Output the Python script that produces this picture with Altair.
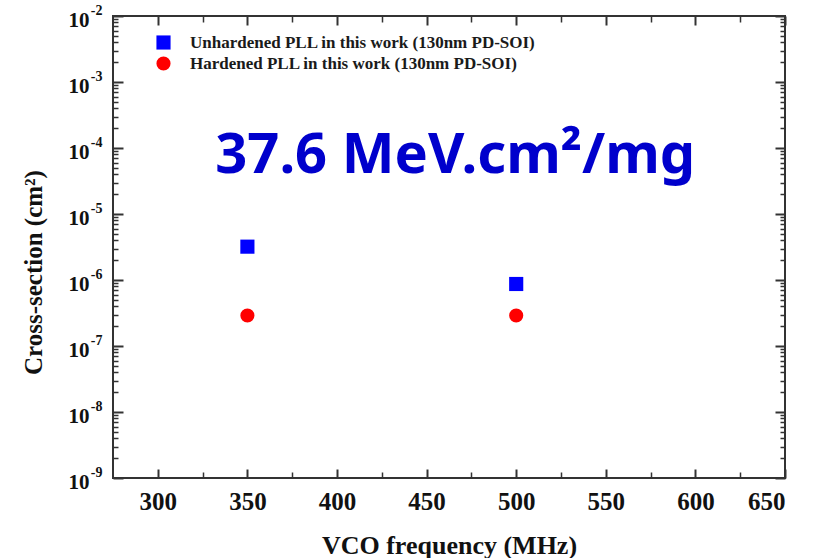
import altair as alt
import pandas as pd

# ---- data ----
freq = [350, 500]
unhardened = [3.2e-6, 8.7e-7]
hardened = [2.9e-7, 2.9e-7]
series_names = [
    "Unhardened PLL in this work (130nm PD-SOI)",
    "Hardened PLL in this work (130nm PD-SOI)",
]
x_major = [300, 350, 400, 450, 500, 550, 600, 650]
x_minor = [325, 375, 425, 475, 525, 575, 625]
y_major = [1e-9, 1e-8, 1e-7, 1e-6, 1e-5, 1e-4, 1e-3, 1e-2]
y_minor = [k * 10.0 ** e for e in range(-9, -2) for k in range(2, 10)]
annotation = ["37.6 MeV.cm²/mg"]
ann_freq = [466]
ann_cs = [4.2e-5]

rows = []
for f, v in zip(freq, unhardened):
    rows.append({"freq": f, "cs": v, "series": series_names[0]})
for f, v in zip(freq, hardened):
    rows.append({"freq": f, "cs": v, "series": series_names[1]})
df = pd.DataFrame(rows)
ann_df = pd.DataFrame({"freq": ann_freq, "cs": ann_cs, "text": annotation})

xscale = alt.Scale(domain=[275, 650], nice=False, zero=False)
yscale = alt.Scale(type="log", domain=[1e-9, 1e-2], nice=False)

SERIF = "Liberation Serif"
TICK = "#333333"

def tick_axis(orient, values, size, labels=False, **kw):
    return alt.Axis(
        orient=orient, values=values, tickSize=size, offset=-size,
        domain=False, grid=False, labels=labels, tickColor=TICK,
        tickWidth=2 if size > 7 else 1.5, **kw,
    )

exp_expr = "'-' + round(-log(datum.value)/LN10)"

legend = alt.Legend(
    orient="none", legendX=42, legendY=18, title=None, padding=0,
    labelFont=SERIF, labelFontSize=17, labelFontWeight="bold",
    labelColor="#1a1a1a", symbolSize=200, rowPadding=3, labelOffset=18,
    symbolStrokeWidth=0, labelLimit=0,
)

points = alt.Chart(df).mark_point(filled=True, opacity=1, size=200).encode(
    x=alt.X("freq:Q", scale=xscale, title="VCO frequency (MHz)",
            axis=tick_axis("bottom", x_major, 9, labels=True,
                           labelPadding=11, titlePadding=18,
                           labelFontSize=25, titleFontSize=26)),
    y=alt.Y("cs:Q", scale=yscale, title="Cross-section (cm²)",
            axis=tick_axis("left", y_major, 10, labels=True,
                           labelExpr="'10'", labelPadding=24,
                           labelOffset=4, labelFontSize=21,
                           titlePadding=22, titleFontSize=25, titleY=256)),
    color=alt.Color("series:N", scale=alt.Scale(domain=series_names,
                    range=["#0000ff", "#ff0000"]), legend=legend),
    shape=alt.Shape("series:N", scale=alt.Scale(domain=series_names,
                    range=["square", "circle"]), legend=legend),
)

def guide_layer(xo, xv, xs, yo, yv, ys):
    return alt.Chart(df).mark_point(opacity=0).encode(
        x=alt.X("freq:Q", scale=xscale, title=None, axis=tick_axis(xo, xv, xs)),
        y=alt.Y("cs:Q", scale=yscale, title=None, axis=tick_axis(yo, yv, ys)),
    )

g1 = guide_layer("top", x_major, 9, "right", y_major, 10)
g2 = guide_layer("bottom", x_minor, 6, "left", y_minor, 5)
g3 = guide_layer("top", x_minor, 6, "right", y_minor, 5)

# exponent labels of the y axis (superscripts)
g4 = alt.Chart(df).mark_point(opacity=0).encode(
    x=alt.X("freq:Q", scale=xscale, axis=None),
    y=alt.Y("cs:Q", scale=yscale, title=None,
            axis=alt.Axis(orient="left", values=y_major, ticks=False,
                          domain=False, grid=False, labelExpr=exp_expr,
                          labelFontSize=14, labelPadding=11,
                          labelOffset=-6)),
)

ann = alt.Chart(ann_df).mark_text(
    font="Noto Sans", fontSize=56, fontWeight="bold", color="#0000CC",
    align="center", baseline="alphabetic",
).encode(
    x=alt.X("freq:Q", scale=xscale, axis=None),
    y=alt.Y("cs:Q", scale=yscale, axis=None),
    text="text:N",
)

chart = alt.layer(points, g1, g2, g3, g4, ann).resolve_axis(
    x="independent", y="independent"
).properties(
    width=672, height=462,
    autosize=alt.AutoSizeParams(type="none"),
    padding={"left": 113, "top": 16, "right": 34, "bottom": 80},
    background="white",
).configure_view(
    stroke="#333333", strokeWidth=2,
).configure_axis(
    labelFont=SERIF, labelFontSize=22, labelFontWeight="bold",
    labelColor="#111111", titleFont=SERIF, titleFontSize=23,
    titleFontWeight="bold", titleColor="#111111",
)

chart.save("out.html", embed_options={"renderer": "svg", "actions": False})
